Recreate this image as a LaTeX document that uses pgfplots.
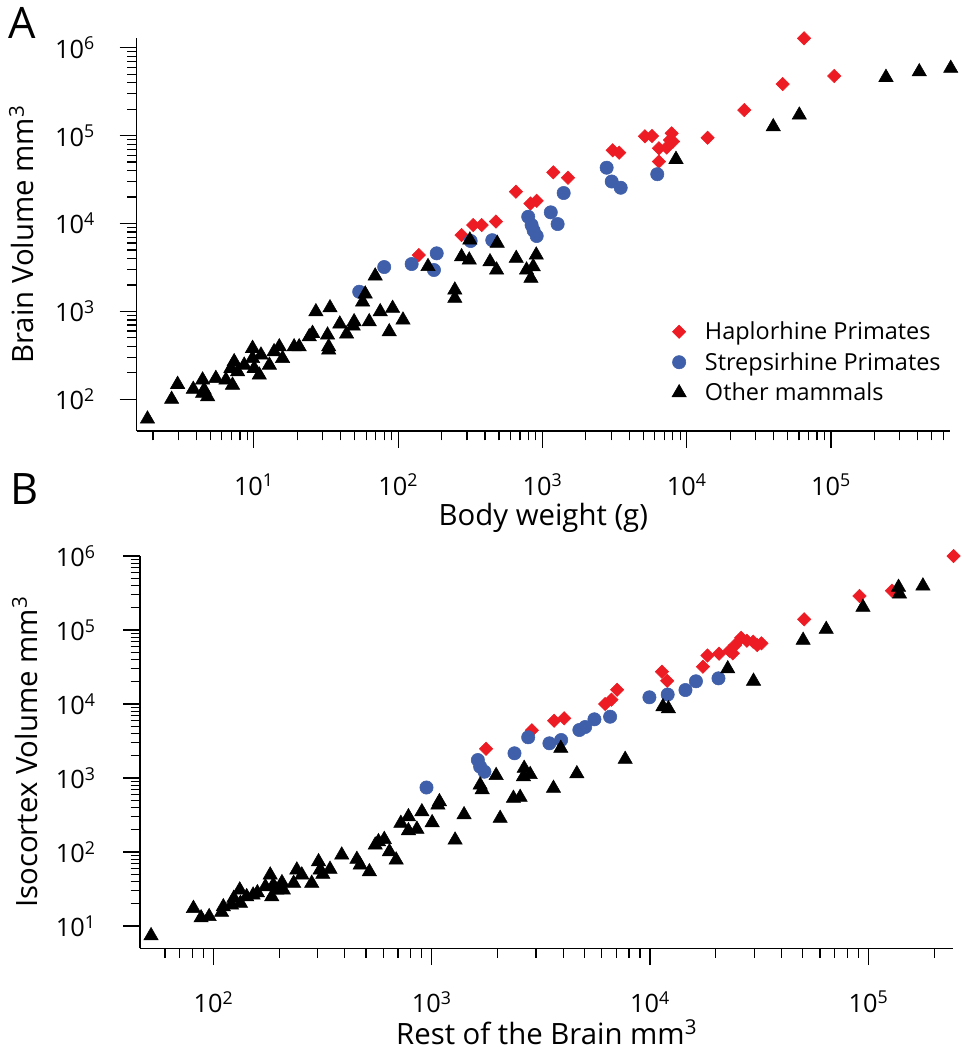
\documentclass[border=0pt]{standalone}
\usepackage{fontspec}
\setmainfont{Open Sans}
\usepackage{pgfplots}
\pgfplotsset{compat=1.18}
\definecolor{hapred}{RGB}{237,28,36}
\definecolor{strepblue}{RGB}{63,95,170}
\pgfplotsset{
  myaxis/.style={
    scale only axis,
    axis lines=left,
    axis line style={-, line width=0.9pt},
    every tick/.style={black, line width=0.9pt},
    tick align=outside,
    major tick length=12.75pt,
    minor tick length=7pt,
    clip=false,
    tick label style={font=\fontsize{19}{22}\selectfont},
    label style={font=\fontsize{22}{26}\selectfont},
  },
  hap/.style={only marks, mark=square*, mark size=3.55pt, mark options={rotate=45, fill=hapred, draw=hapred}},
  strep/.style={only marks, mark=*, mark size=5pt, mark options={fill=strepblue, draw=strepblue}},
  other/.style={only marks, mark=triangle*, mark size=6.2pt, mark options={fill=black, draw=black}},
}
\begin{document}
\begin{tikzpicture}
\path[use as bounding box] (0,0) rectangle (720.75pt,-787.5pt);
\node[anchor=north west, inner sep=0pt, font=\fontsize{32.5}{36}\selectfont] at (6pt,-5.25pt) {A};
\node[anchor=north west, inner sep=0pt, font=\fontsize{32.5}{36}\selectfont] at (7.5pt,-354.75pt) {B};
\begin{loglogaxis}[myaxis,
  at={(102.5pt,-323.25pt)}, anchor=south west,
  width=610pt, height=294.75pt,
  xmin=1.54, xmax=6.68e5, ymin=43.6, ymax=1.29e6,
  xticklabel shift=16pt, yticklabel shift=15pt,
  xtick={10,100,1000,10000,100000},
  xticklabels={10\textsuperscript{1},10\textsuperscript{2},10\textsuperscript{3},10\textsuperscript{4},10\textsuperscript{5}},
  minor xtick={2,3,4,5,6,7,8,9,20,30,40,50,60,70,80,90,200,300,400,500,600,700,800,900,2000,3000,4000,5000,6000,7000,8000,9000,20000,30000,40000,50000,60000,70000,80000,90000,200000,300000,400000,500000,600000},
  ytick={100,1000,10000,100000,1000000},
  yticklabels={10\textsuperscript{2},10\textsuperscript{3},10\textsuperscript{4},10\textsuperscript{5},10\textsuperscript{6}},
  minor ytick={},
  xlabel={Body weight (g)},
  ylabel={Brain Volume mm\textsuperscript{3}},
  xlabel style={at={(axis description cs:0.5,-0.2417)}, anchor=base},
  ylabel style={at={(axis description cs:-0.1263,0.5)}, anchor=base},
  legend style={draw=none, fill=none, font=\fontsize{17.6}{21}\selectfont,
    at={(axis description cs:0.825,0.175)}, anchor=center, row sep=4pt,
    /tikz/every odd column/.append style={column sep=12pt}},
  legend cell align=left,
]
\addplot[hap] coordinates {
(139,4381) (275,7396) (331,9610) (379,9610) (476,10540) (655,23010) (826,16880) (912,18150)
(1189,38230) (1503,33190) (3066,68080) (3404,63900) (5135,98200) (5742,98970) (6420,71720)
(7262,73230) (7865,106200) (7656,89150) (8035,85730) (6420,50700) (13960,94600) (25060,195400)
(46240,386500) (65030,1280000) (105400,476800)
};
\addlegendentry{Haplorhine Primates}
\addplot[strep] coordinates {
(53.7,1675) (80.0,3199) (124,3460) (185,4580) (177,2958) (318,6325) (449,6460) (797,11940)
(841,9610) (869,8318) (912,7210) (1142,13400) (1274,9860) (1403,22230) (2786,43150)
(3020,30060) (3486,25530) (6250,36390)
};
\addlegendentry{Strepsirhine Primates}
\addplot[other] coordinates {
(1.83,59.7) (2.69,100) (2.96,148) (3.80,130) (4.41,166) (4.52,128) (4.78,107) (4.41,117)
(5.45,173) (6.40,166) (7.11,145) (7.30,268) (6.93,225) (7.71,206) (8.57,245) (9.79,380)
(9.79,292) (10.05,225) (10.9,189) (11.2,319) (12.8,245) (13.8,348) (15.0,396) (15.8,292)
(19.0,396) (20.6,396) (24.2,515) (25.5,563) (26.9,992) (32.4,539) (33.0,396) (33.0,364)
(33.7,1100) (39.4,719) (43.9,553) (49.5,764) (48.8,682) (56.7,1280) (59.1,1578) (63.0,764)
(69.3,2530) (75.1,992) (86.7,587) (91.5,1084) (108,798) (161,3240) (247,1752) (247,1409)
(275,4190) (311,3845) (314,6490) (433,3675) (481,2958) (486,5957) (658,4018) (776,2958)
(832,2380) (863,3225) (906,4381) (8425,53700) (39800,126200) (60300,171400)
(240400,460000) (409000,533000) (676000,583000)
};
\addlegendentry{Other mammals}
\end{loglogaxis}
\begin{loglogaxis}[myaxis,
  at={(105pt,-711.2pt)}, anchor=south west,
  width=610pt, height=294.2pt,
  xmin=46.1, xmax=2.449e5, ymin=5.0, ymax=1e6,
  xticklabel shift=16pt, yticklabel shift=17pt,
  xtick={100,1000,10000,100000},
  xticklabels={10\textsuperscript{2},10\textsuperscript{3},10\textsuperscript{4},10\textsuperscript{5}},
  minor xtick={60,70,80,90,200,300,400,500,600,700,800,900,2000,3000,4000,5000,6000,7000,8000,9000,20000,30000,40000,50000,60000,70000,80000,90000,200000},
  ytick={10,100,1000,10000,100000,1000000},
  yticklabels={10\textsuperscript{1},10\textsuperscript{2},10\textsuperscript{3},10\textsuperscript{4},10\textsuperscript{5},10\textsuperscript{6}},
  minor ytick={},
  xlabel={Rest of the Brain mm\textsuperscript{3}},
  ylabel={Isocortex Volume mm\textsuperscript{3}},
  xlabel style={at={(axis description cs:0.5,-0.2465)}, anchor=base},
  ylabel style={at={(axis description cs:-0.1266,0.5)}, anchor=base},
]
\addplot[hap] coordinates {
(1774,2481) (2874,4413) (3637,5940) (4042,6410) (6223,10000) (6653,11430) (7064,15600)
(11330,27330) (11970,20580) (17460,31920) (18320,45230) (20690,47860) (23100,52360)
(23930,48430) (24530,62660) (26140,78450) (27760,71610) (29670,69480) (30950,62660)
(32360,66070) (50800,139500) (91000,288100) (128200,339600) (245500,1000000)
};
\addplot[strep] coordinates {
(946,744) (1626,1750) (1666,1421) (1743,1216) (2393,2158) (2765,3548) (3459,2944)
(3916,3263) (4743,4454) (5043,4887) (5560,6210) (6560,6735) (9930,12320) (12040,13430)
(14520,15450) (16220,20270) (20570,22230)
};
\addplot[other] coordinates {
(51.8,7.4) (81.0,17.3) (87.8,12.9) (95.6,13.4) (109,15.3) (111,18.2) (121,19.2) (124,23.7)
(132,30.7) (133,20.3) (142,24.9) (152,26.2) (159,28.2) (173,34.0) (182,48.9) (185,24.9)
(188,35.8) (195,30.7) (206,38.5) (209,30.7) (233,37.8) (241,57.1) (254,48.9) (282,37.8)
(303,74.0) (308,57.1) (317,50.0) (342,58.4) (387,91.0) (454,79.6) (470,66.7) (518,54.2)
(551,124) (570,138) (606,148) (640,101) (687,78) (722,244) (782,300) (782,194) (855,203)
(901,350) (1004,249) (1067,431) (1084,479) (1279,145) (1406,319) (1666,804) (1702,695)
(1972,1081) (2057,285) (2366,532) (2540,548) (2650,1352) (2630,1041) (2824,1114)
(3610,726) (3900,2518) (4620,1143) (7690,1789) (11450,9194) (12130,8640) (22680,29920)
(29770,20330) (50230,72620) (64080,102100) (94400,202800) (137400,377600)
(138800,306200) (177700,393600)
};
\end{loglogaxis}
\end{tikzpicture}
\end{document}
